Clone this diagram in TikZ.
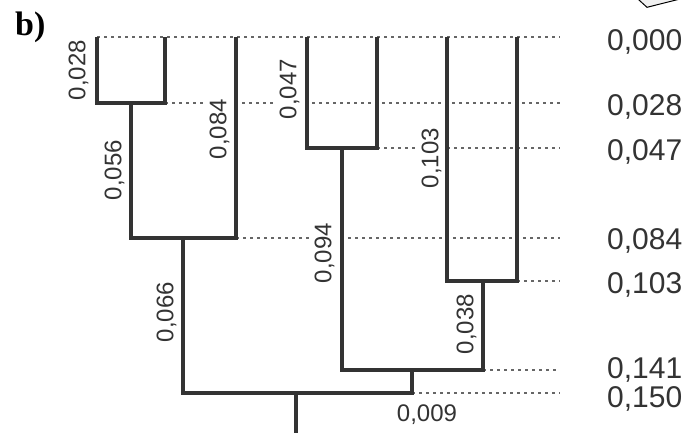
\documentclass[tikz,border=0pt]{standalone}
\usepackage{fontspec}
\setmainfont{Liberation Sans}
\newfontfamily\labserif{Liberation Serif}
\definecolor{ink}{HTML}{333333}
\definecolor{guidegray}{HTML}{666666}
\definecolor{shapegray}{HTML}{F0F0F0}
\begin{document}
\begin{tikzpicture}[x=1pt,y=-1pt,
  branch/.style={line width=3.2pt, draw=ink, line join=miter},
  guide/.style={line width=1.3pt, draw=guidegray, dash pattern=on 2.5pt off 4.5pt},
  blab/.style={rotate=90, fill=white, inner sep=3pt, text=ink, font=\fontsize{24}{24}\selectfont},
  hlab/.style={anchor=base west, inner sep=0pt, text=ink, font=\fontsize{30}{30}\selectfont},
]
\useasboundingbox (0,0) rectangle (689,432);
\clip (0,0) rectangle (689,432);

% leaves (tops)
\coordinate (l1) at (97,37);
\coordinate (l2) at (165,37);
\coordinate (l3) at (236,37);
\coordinate (l4) at (307,37);
\coordinate (l5) at (377,37);
\coordinate (l6) at (447,37);
\coordinate (l7) at (517,37);
% internal nodes
\coordinate (A) at (131,103);
\coordinate (B) at (183,238);
\coordinate (C) at (342,148);
\coordinate (D) at (483,281);
\coordinate (E) at (412,370);
\coordinate (F) at (296,393);
\coordinate (R) at (296,440);
% guide line ends
\coordinate (g0) at (560,37);
\coordinate (g1) at (560,103);
\coordinate (g2) at (560,148);
\coordinate (g3) at (560,238);
\coordinate (g4) at (560,281);
\coordinate (g5) at (560,370);
\coordinate (g6) at (560,393);
\coordinate (A2) at (165,103);
\coordinate (B2) at (236,238);
\coordinate (C2) at (377,148);
\coordinate (D2) at (517,281);
\coordinate (E2) at (483,370);
\coordinate (F2) at (412,393);

% dotted guides
\draw[guide] (l1) -- (g0);
\draw[guide] (A2) -- (g1);
\draw[guide] (C2) -- (g2);
\draw[guide] (B2) -- (g3);
\draw[guide] (D2) -- (g4);
\draw[guide] (E2) -- (g5);
\draw[guide] (F2) -- (g6);

% branch labels
\node[blab] (b028) at (78.5,70) {0,028};
\node[blab] (b084) at (219.5,129) {0,084};
\node[blab] (b056) at (114.5,170) {0,056};
\node[blab] (b066) at (166.5,312) {0,066};
\node[blab] (b047) at (289.5,89) {0,047};
\node[blab] (b094) at (324.5,253) {0,094};
\node[blab] (b103) at (431.5,158) {0,103};
\node[blab] (b038) at (466.5,324) {0,038};
\node[anchor=base, inner sep=0pt, text=ink, font=\fontsize{24}{24}\selectfont] (b009) at (427,421) {0,009};

% tree
\draw[branch] (l1) |- (A) -| (l2);
\draw[branch] (A) |- (B) -| (l3);
\draw[branch] (l4) |- (C) -| (l5);
\draw[branch] (l6) |- (D) -| (l7);
\draw[branch] (C) |- (E) -| (D);
\draw[branch] (B) |- (F) -| (E);
\draw[branch] (F) -- (R);

% scale labels
\node[hlab] (s000) at (607,50) {0,000};
\node[hlab] (s028) at (607,115) {0,028};
\node[hlab] (s047) at (607,160) {0,047};
\node[hlab] (s084) at (607,249) {0,084};
\node[hlab] (s103) at (607,293) {0,103};
\node[hlab] (s141) at (607,378) {0,141};
\node[hlab] (s150) at (607,407) {0,150};

% panel letter
\node[anchor=base west, inner sep=0pt, text=black, font=\labserif\bfseries\fontsize{34}{34}\selectfont] (panel) at (15,35) {b)};

% clipped shape at top right
\draw[line width=1pt, fill=shapegray] (628,-10) -- (647,7.3) -- (700,-6) -- cycle;
\end{tikzpicture}
\end{document}
